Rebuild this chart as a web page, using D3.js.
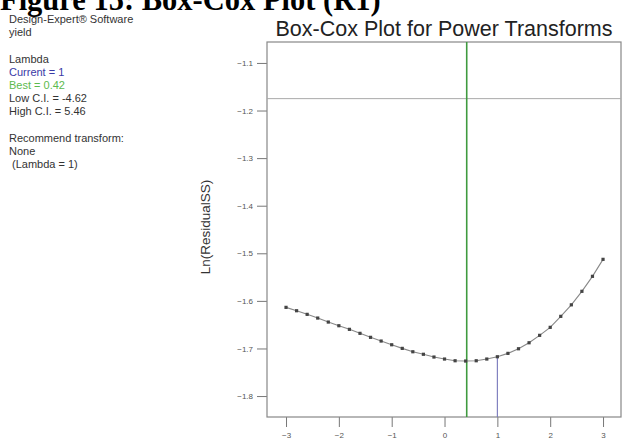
<!DOCTYPE html>
<html>
<head>
<meta charset="utf-8">
<script src="https://cdn.jsdelivr.net/npm/d3@7"></script>
<style>
  html, body { margin: 0; padding: 0; background: #fff; }
  svg { display: block; }
</style>
</head>
<body>
<svg id="chart" width="624" height="440"></svg>
<script>
// Lambda grid and ln(residual SS) for each Box-Cox power
const lambdas = [-3.0, -2.8, -2.6, -2.4, -2.2, -2.0, -1.8, -1.6, -1.4, -1.2, -1.0,
                 -0.8, -0.6, -0.4, -0.2, 0.0, 0.2, 0.4, 0.6, 0.8, 1.0,
                 1.2, 1.4, 1.6, 1.8, 2.0, 2.2, 2.4, 2.6, 2.8, 3.0];
const lnResidualSS = [-1.6136, -1.6207, -1.6283, -1.6361, -1.6445, -1.6522, -1.6598, -1.6682, -1.6766, -1.6844, -1.6922,
                      -1.6998, -1.7069, -1.7122, -1.7180, -1.7222, -1.7258, -1.7264, -1.7258, -1.7222, -1.7174,
                      -1.7103, -1.7006, -1.6880, -1.6724, -1.6556, -1.6325, -1.6083, -1.5799, -1.5484, -1.5127];

const currentLambda = 1;
const bestLambda = 0.42;
const ciLimit = -1.175;          // confidence-interval cut line

const xTicks = [-3, -2, -1, 0, 1, 2, 3];
const yTicks = [-1.1, -1.2, -1.3, -1.4, -1.5, -1.6, -1.7, -1.8];

const infoLines = [
  { text: "Design-Expert\u00AE Software", color: "#333" },
  { text: "yield", color: "#333" },
  { text: "", color: "#333" },
  { text: "Lambda", color: "#333" },
  { text: "Current = 1", color: "#3a3aa6" },
  { text: "Best = 0.42", color: "#5cba4e" },
  { text: "Low C.I. = -4.62", color: "#333" },
  { text: "High C.I. = 5.46", color: "#333" },
  { text: "", color: "#333" },
  { text: "Recommend transform:", color: "#333" },
  { text: "None", color: "#333" },
  { text: "\u00A0(Lambda = 1)", color: "#333" }
];

const svg = d3.select("#chart");
const plot = { left: 267, right: 621, top: 42, bottom: 417 };

const x = d3.scaleLinear().domain([-3.36, 3.34]).range([plot.left, plot.right]);
const y = d3.scaleLinear().domain([-1.844, -1.056]).range([plot.bottom, plot.top]);

// Figure caption running off the top edge
svg.append("text")
  .attr("x", 0).attr("y", 10)
  .attr("font-family", "Liberation Serif, Times New Roman, serif")
  .attr("font-weight", "bold")
  .attr("font-size", 30.5)
  .attr("fill", "#000")
  .text("Figure 15: Box-Cox Plot (R1)");

// Side information block
svg.append("g").selectAll("text")
  .data(infoLines)
  .join("text")
  .attr("x", 9)
  .attr("y", (d, i) => 23 + i * 13.2)
  .attr("font-family", "Liberation Sans, Arial, sans-serif")
  .attr("font-size", 11)
  .attr("fill", d => d.color)
  .text(d => d.text);

// Chart title
svg.append("text")
  .attr("x", (plot.left + plot.right) / 2)
  .attr("y", 36)
  .attr("text-anchor", "middle")
  .attr("font-family", "Liberation Sans, Arial, sans-serif")
  .attr("font-size", 21.5)
  .attr("fill", "#222")
  .text("Box-Cox Plot for Power Transforms");

// Axes
const yAxis = svg.append("g")
  .attr("transform", `translate(${plot.left},0)`)
  .call(d3.axisLeft(y).tickValues(yTicks).tickSize(10).tickPadding(4).tickFormat(d3.format(".1f")));
const xAxis = svg.append("g")
  .attr("transform", `translate(0,${plot.bottom})`)
  .call(d3.axisBottom(x).tickValues(xTicks).tickSize(10).tickPadding(5).tickFormat(d3.format("d")));

[yAxis, xAxis].forEach(a => {
  a.select(".domain").remove();
  a.selectAll(".tick line").attr("stroke", "#777");
  a.selectAll(".tick text")
    .attr("fill", "#555")
    .attr("font-family", "Liberation Sans, Arial, sans-serif")
    .attr("font-size", 8);
});

// Y axis title
svg.append("text")
  .attr("transform", "translate(210,227) rotate(-90)")
  .attr("text-anchor", "middle")
  .attr("font-family", "Liberation Sans, Arial, sans-serif")
  .attr("font-size", 13.5)
  .attr("fill", "#333")
  .text("Ln(ResidualSS)");

// Plot frame
svg.append("rect")
  .attr("x", plot.left).attr("y", plot.top)
  .attr("width", plot.right - plot.left).attr("height", plot.bottom - plot.top)
  .attr("fill", "none").attr("stroke", "#888").attr("stroke-width", 1.2);

// Confidence-interval limit
svg.append("line")
  .attr("x1", plot.left).attr("x2", plot.right)
  .attr("y1", y(ciLimit)).attr("y2", y(ciLimit))
  .attr("stroke", "#aaa").attr("stroke-width", 1);

// Best lambda
svg.append("line")
  .attr("x1", x(bestLambda)).attr("x2", x(bestLambda))
  .attr("y1", plot.top).attr("y2", plot.bottom)
  .attr("stroke", "#3f9a3f").attr("stroke-width", 1.6);

// Current lambda, from the axis up to the curve
const currentIdx = lambdas.indexOf(currentLambda);
svg.append("line")
  .attr("x1", x(currentLambda)).attr("x2", x(currentLambda))
  .attr("y1", plot.bottom).attr("y2", y(lnResidualSS[currentIdx]))
  .attr("stroke", "#7777bb").attr("stroke-width", 1.1);

// Curve and points
const pts = lambdas.map((l, i) => ({ l, v: lnResidualSS[i] }));
svg.append("path")
  .datum(pts)
  .attr("fill", "none")
  .attr("stroke", "#888")
  .attr("stroke-width", 1.1)
  .attr("d", d3.line().x(d => x(d.l)).y(d => y(d.v)));

svg.append("g").selectAll("rect")
  .data(pts)
  .join("rect")
  .attr("x", d => x(d.l) - 1.6)
  .attr("y", d => y(d.v) - 1.6)
  .attr("width", 3.2).attr("height", 3.2)
  .attr("fill", "#444");
</script>
</body>
</html>
